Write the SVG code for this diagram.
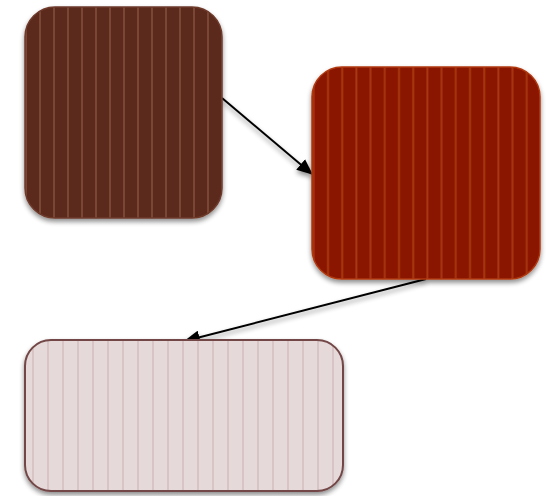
<svg xmlns="http://www.w3.org/2000/svg" width="555" height="496" viewBox="0 0 555 496">
  <defs>
    <filter id="shadow" x="-10%" y="-10%" width="125%" height="125%">
      <feGaussianBlur in="SourceAlpha" stdDeviation="2.5"/>
      <feOffset dx="0" dy="3" result="b"/>
      <feComponentTransfer><feFuncA type="linear" slope="0.45"/></feComponentTransfer>
      <feMerge><feMergeNode/><feMergeNode in="SourceGraphic"/></feMerge>
    </filter>
    <pattern id="p1" patternUnits="userSpaceOnUse" x="47" y="0" width="14" height="10">
      <rect width="14" height="10" fill="#5b2a1e"/>
      <rect x="6" width="2" height="10" fill="#7a4634"/>
    </pattern>
    <pattern id="p2" patternUnits="userSpaceOnUse" x="321" y="0" width="14.2" height="10">
      <rect width="14.2" height="10" fill="#8a1400"/>
      <rect x="6" width="2" height="10" fill="#a8380f"/>
    </pattern>
    <pattern id="p3" patternUnits="userSpaceOnUse" x="26" y="0" width="15" height="10">
      <rect width="15" height="10" fill="#e6d9d9"/>
      <rect x="6" width="2" height="10" fill="#d8c4c4"/>
    </pattern>
    <marker id="arrL" viewBox="0 0 14 12" refX="13" refY="6" markerWidth="16" markerHeight="14" markerUnits="userSpaceOnUse" orient="auto">
      <path d="M0,0 L14,6 L0,12 Z" fill="#000"/>
    </marker>
  </defs>
  <style>
    .edge { stroke: #000; stroke-width: 2; fill: none; marker-end: url(#arrL); }
  </style>
  <g id="connectors" filter="url(#shadow)">
    <line class="edge" x1="222" y1="98" x2="312" y2="174"/>
    <line class="edge" x1="426" y1="279" x2="185" y2="341"/>
  </g>
  <g id="node1" filter="url(#shadow)">
    <rect x="25" y="7" width="197" height="211" rx="30" ry="30" fill="url(#p1)" stroke="#6e3a2c" stroke-width="1.5"/>
  </g>
  <g id="node2" filter="url(#shadow)">
    <rect x="312" y="67" width="228" height="212" rx="30" ry="30" fill="url(#p2)" stroke="#b0380e" stroke-width="1.5"/>
  </g>
  <g id="node3" filter="url(#shadow)">
    <rect x="25" y="340" width="318" height="151" rx="26" ry="26" fill="url(#p3)" stroke="#734646" stroke-width="2"/>
  </g>
</svg>
